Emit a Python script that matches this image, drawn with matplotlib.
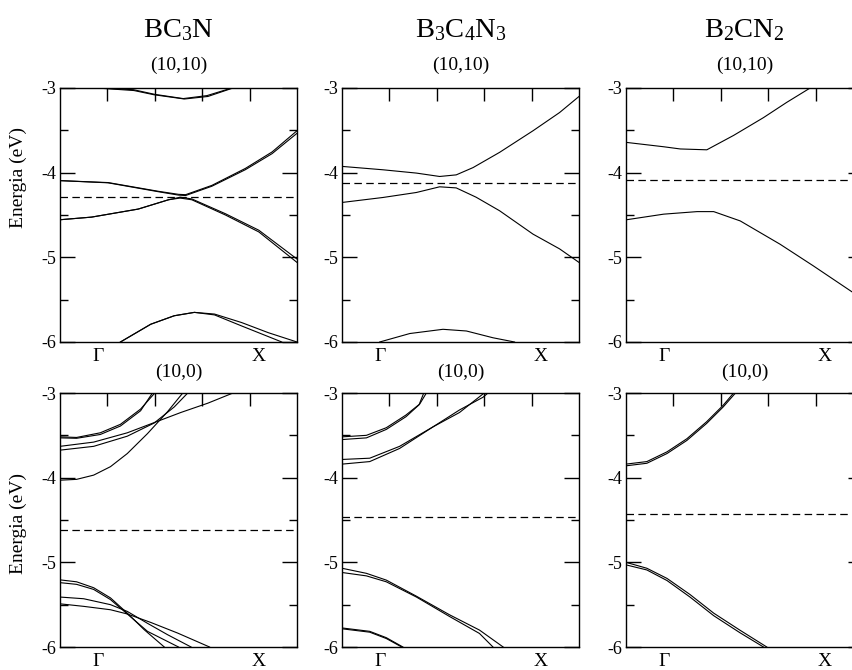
import matplotlib
matplotlib.use("Agg")
import matplotlib.pyplot as plt

plt.rcParams['font.family'] = ['Liberation Serif', 'DejaVu Serif']
plt.rcParams['mathtext.fontset'] = 'custom'
plt.rcParams['mathtext.rm'] = 'Liberation Serif'
plt.rcParams['mathtext.it'] = 'Liberation Serif:italic'
plt.rcParams['axes.unicode_minus'] = False

# compounds and tube types
compounds = [r'BC$_3$N', r'B$_3$C$_4$N$_3$', r'B$_2$CN$_2$']
tubes = ['(10,10)', '(10,0)']
k_labels = ['Γ', 'X']
k_label_pos = [0.16, 0.84]
y_ticks = [-3, -4, -5, -6]

# Fermi levels (dashed), row by row
fermi_1010 = [-4.29, -4.12, -4.09]
fermi_100 = [-4.62, -4.47, -4.43]

# bands: (k, E), k in units of Gamma->X
bc3n_1010 = [
    ([0.156, 0.312, 0.397, 0.525, 0.624, 0.73], [-3.0, -3.03, -3.08, -3.13, -3.10, -3.0]),
    ([0.16, 0.31, 0.40, 0.52, 0.62, 0.725], [-3.0, -3.02, -3.075, -3.125, -3.09, -3.0]),
    ([0, 0.203, 0.415, 0.5, 0.53, 0.641, 0.782, 0.895, 1.0],
     [-4.094, -4.117, -4.22, -4.256, -4.26, -4.15, -3.95, -3.755, -3.505]),
    ([0, 0.203, 0.415, 0.5, 0.53, 0.641, 0.782, 0.895, 1.0],
     [-4.094, -4.12, -4.225, -4.265, -4.27, -4.16, -3.965, -3.775, -3.535]),
    ([0, 0.133, 0.33, 0.458, 0.507, 0.556, 0.698, 0.839, 1.0],
     [-4.556, -4.525, -4.43, -4.32, -4.29, -4.31, -4.485, -4.68, -5.02]),
    ([0, 0.133, 0.33, 0.458, 0.507, 0.556, 0.698, 0.839, 1.0],
     [-4.556, -4.525, -4.43, -4.32, -4.30, -4.32, -4.50, -4.70, -5.06]),
    ([0.255, 0.383, 0.482, 0.567, 0.652, 0.766, 0.879, 1.0],
     [-6.0, -5.79, -5.69, -5.65, -5.67, -5.77, -5.89, -6.0]),
    ([0.255, 0.383, 0.482, 0.567, 0.652, 0.766, 0.936],
     [-6.0, -5.79, -5.69, -5.65, -5.68, -5.81, -6.0]),
]
b3c4n3_1010 = [
    ([0, 0.173, 0.314, 0.412, 0.482, 0.553, 0.665, 0.806, 0.918, 1.0],
     [-3.926, -3.966, -4.005, -4.045, -4.026, -3.94, -3.76, -3.505, -3.29, -3.10]),
    ([0, 0.173, 0.314, 0.412, 0.482, 0.566, 0.665, 0.806, 0.918, 1.0],
     [-4.352, -4.293, -4.234, -4.167, -4.18, -4.29, -4.45, -4.726, -4.90, -5.06]),
    ([0.159, 0.286, 0.426, 0.525, 0.637, 0.728], [-6.0, -5.90, -5.85, -5.87, -5.95, -6.0]),
]
b2cn2_1010 = [
    ([0, 0.159, 0.229, 0.341, 0.454, 0.58, 0.678, 0.777],
     [-3.642, -3.694, -3.72, -3.73, -3.56, -3.35, -3.17, -3.0]),
    ([0, 0.159, 0.30, 0.37, 0.482, 0.65, 0.79, 0.958, 1.0],
     [-4.557, -4.49, -4.46, -4.46, -4.57, -4.845, -5.10, -5.416, -5.49]),
]
bc3n_100 = [
    ([0, 0.07, 0.17, 0.255, 0.34, 0.40], [-3.518, -3.525, -3.47, -3.37, -3.19, -3.0]),
    ([0, 0.07, 0.17, 0.255, 0.34, 0.39], [-3.53, -3.535, -3.49, -3.39, -3.21, -3.0]),
    ([0, 0.142, 0.284, 0.397, 0.51, 0.624, 0.73], [-3.63, -3.58, -3.47, -3.35, -3.23, -3.12, -3.0]),
    ([0, 0.142, 0.284, 0.397, 0.482, 0.539], [-3.675, -3.63, -3.51, -3.355, -3.165, -3.0]),
    ([0, 0.07, 0.142, 0.213, 0.284, 0.369, 0.454, 0.518],
     [-4.03, -4.02, -3.97, -3.87, -3.715, -3.48, -3.22, -3.0]),
    ([0, 0.07, 0.142, 0.213, 0.284, 0.355, 0.44], [-5.207, -5.23, -5.30, -5.42, -5.60, -5.795, -6.0]),
    ([0, 0.07, 0.142, 0.213, 0.284, 0.369, 0.50], [-5.24, -5.26, -5.32, -5.44, -5.61, -5.815, -6.0]),
    ([0, 0.10, 0.213, 0.284, 0.369, 0.454, 0.553], [-5.41, -5.43, -5.50, -5.58, -5.72, -5.855, -6.0]),
    ([0, 0.10, 0.213, 0.284, 0.383, 0.496, 0.631], [-5.49, -5.52, -5.56, -5.61, -5.71, -5.835, -6.0]),
]
b3c4n3_100 = [
    ([0, 0.103, 0.187, 0.27, 0.328, 0.356], [-3.518, -3.50, -3.41, -3.26, -3.13, -3.0]),
    ([0, 0.103, 0.187, 0.27, 0.325, 0.345], [-3.55, -3.53, -3.43, -3.28, -3.14, -3.0]),
    ([0, 0.117, 0.243, 0.384, 0.496, 0.595, 0.616], [-3.785, -3.77, -3.63, -3.40, -3.20, -3.05, -3.0]),
    ([0, 0.117, 0.243, 0.384, 0.496, 0.60], [-3.84, -3.81, -3.655, -3.40, -3.23, -3.0]),
    ([0, 0.103, 0.187, 0.314, 0.454, 0.58, 0.68], [-5.07, -5.13, -5.21, -5.40, -5.62, -5.80, -6.0]),
    ([0, 0.103, 0.187, 0.314, 0.454, 0.58, 0.637], [-5.12, -5.16, -5.23, -5.41, -5.64, -5.84, -6.0]),
    ([0, 0.117, 0.187, 0.257], [-5.775, -5.815, -5.89, -6.0]),
    ([0, 0.117, 0.187, 0.252], [-5.785, -5.825, -5.90, -6.0]),
]
b2cn2_100 = [
    ([0, 0.088, 0.173, 0.257, 0.34, 0.41, 0.454], [-3.84, -3.81, -3.695, -3.54, -3.34, -3.145, -3.0]),
    ([0, 0.088, 0.173, 0.257, 0.34, 0.41, 0.462], [-3.86, -3.83, -3.715, -3.56, -3.36, -3.165, -3.0]),
    ([0, 0.088, 0.173, 0.27, 0.37, 0.48, 0.594], [-5.0, -5.07, -5.19, -5.38, -5.60, -5.80, -6.0]),
    ([0, 0.088, 0.173, 0.27, 0.37, 0.48, 0.58], [-5.03, -5.09, -5.215, -5.41, -5.63, -5.83, -6.0]),
]

panels = [[bc3n_1010, b3c4n3_1010, b2cn2_1010], [bc3n_100, b3c4n3_100, b2cn2_100]]
fermis = [fermi_1010, fermi_100]

W, H = 853, 670
fig = plt.figure(figsize=(W / 100, H / 100), dpi=100)

col_left = [60, 342, 626]
col_w = 237
row_top = [88, 393]
row_h = 254

for r in range(2):
    for c in range(3):
        ax = fig.add_axes([col_left[c] / W, (H - row_top[r] - row_h) / H, col_w / W, row_h / H])
        for k, e in panels[r][c]:
            ax.plot(k, e, color='black', lw=0.8)
        ax.axhline(fermis[r][c], color='black', lw=0.9, linestyle=(0, (6, 3.5)))
        ax.set_xlim(0, 1)
        ax.set_ylim(-6, -3)

        ax.set_yticks(y_ticks, [str(t) for t in y_ticks])
        ax.set_yticks([-3.5, -4.5, -5.5], minor=True)
        ax.tick_params(axis='y', which='major', direction='in', length=11, width=1,
                       left=True, right=True, labelsize=13, pad=3)
        ax.tick_params(axis='y', which='minor', direction='in', length=6, width=1,
                       left=True, right=True)

        ax.set_xticks([0.2, 0.4, 0.6, 0.8])
        ax.set_xticks(k_label_pos, k_labels, minor=True)
        ax.tick_params(axis='x', which='major', direction='in', length=9.5, width=1,
                       top=True, bottom=False, labelbottom=False)
        ax.tick_params(axis='x', which='minor', length=0, labelbottom=True,
                       labelsize=14, pad=4)
        for s in ax.spines.values():
            s.set_linewidth(1.0)

        cx = (col_left[c] + col_w / 2) / W
        if r == 0:
            fig.text(cx, 1 - 30 / H, compounds[c], ha='center', va='center', fontsize=20.5)
            fig.text(cx, 1 - 65 / H, tubes[0], ha='center', va='center', fontsize=14)
        else:
            fig.text(cx, 1 - 372 / H, tubes[1], ha='center', va='center', fontsize=14)

fig.text(18 / W, 1 - 178 / H, 'Energia (eV)', rotation=90, ha='center', va='center', fontsize=14)
fig.text(18 / W, 1 - 523 / H, 'Energia (eV)', rotation=90, ha='center', va='center', fontsize=14)

fig.savefig('out.png', dpi=100)
